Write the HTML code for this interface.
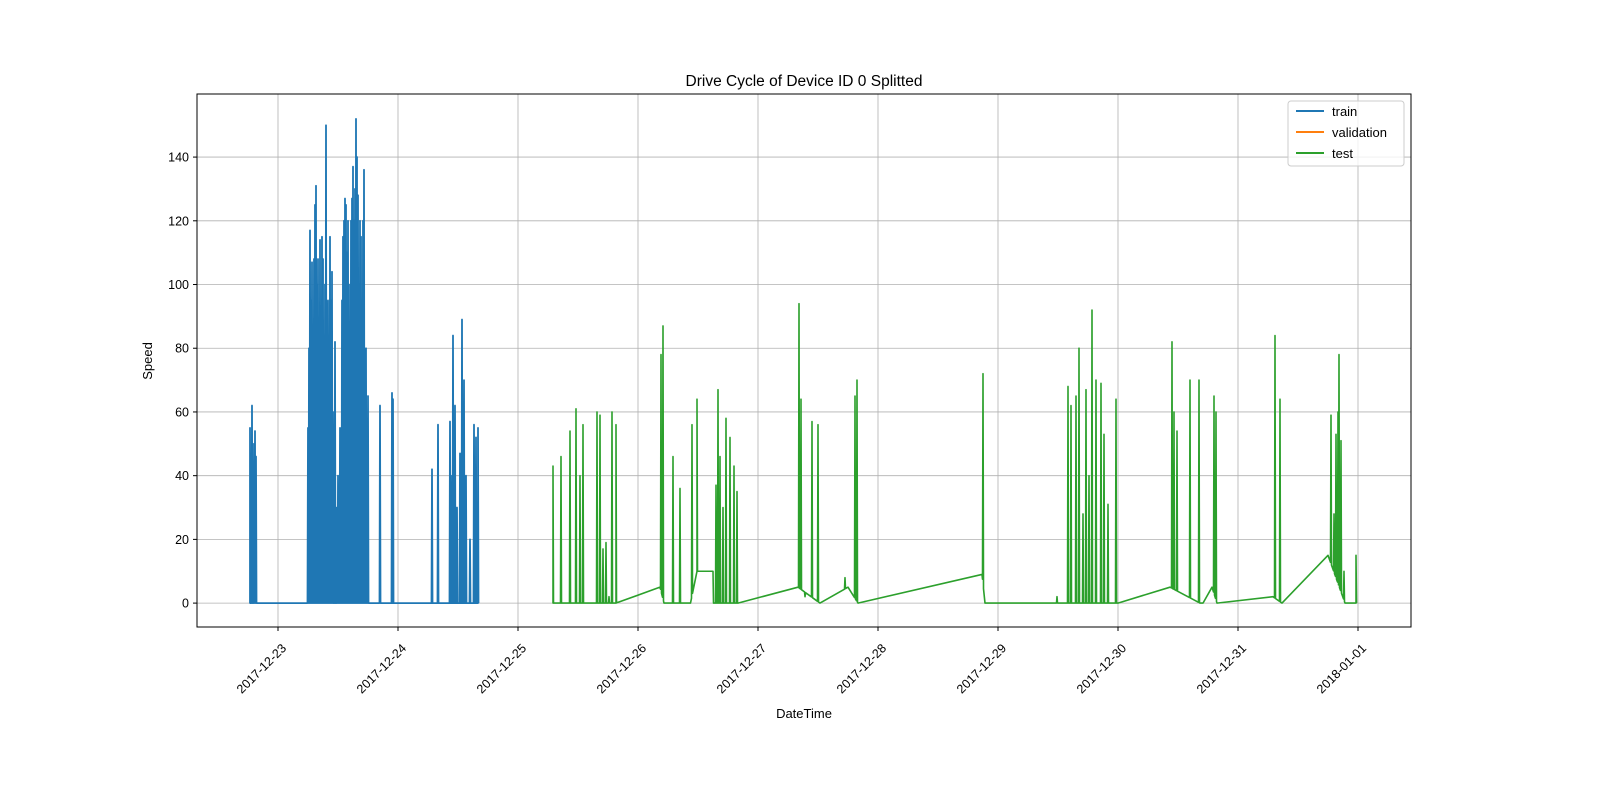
<!DOCTYPE html>
<html><head><meta charset="utf-8"><style>
html,body{margin:0;padding:0;width:1600px;height:800px;overflow:hidden;background:#fff;}
svg{display:block;font-family:"Liberation Sans","DejaVu Sans",sans-serif;}
</style></head><body>
<svg id="chart" width="1600" height="800" viewBox="0 0 1600 800">
<rect width="1600" height="800" fill="#fff"/>
<g id="grid"></g>
<g id="series"></g>
<rect x="197" y="94" width="1214" height="533" fill="none" stroke="#000" stroke-width="1"/>
<g id="axes"></g>
<text x="804" y="86" text-anchor="middle" font-size="15.5">Drive Cycle of Device ID 0 Splitted</text>
<text x="804" y="718" text-anchor="middle" font-size="13">DateTime</text>
<text transform="translate(152,361) rotate(-90)" text-anchor="middle" font-size="13">Speed</text>
<g>
<rect x="1288" y="101" width="116" height="65" rx="3" fill="#fff" fill-opacity="0.8" stroke="#ccc"/>
<g><line x1="1296" y1="111" x2="1324" y2="111" stroke="#1f77b4" stroke-width="2"/><text x="1332" y="116" font-size="13">train</text></g>
<g><line x1="1296" y1="132" x2="1324" y2="132" stroke="#ff7f0e" stroke-width="2"/><text x="1332" y="137" font-size="13">validation</text></g>
<g><line x1="1296" y1="153" x2="1324" y2="153" stroke="#2ca02c" stroke-width="2"/><text x="1332" y="158" font-size="13">test</text></g>
</g>
</svg>
<script>
// hours since 2017-12-23 00:00
const xTickLabels=["2017-12-23","2017-12-24","2017-12-25","2017-12-26","2017-12-27","2017-12-28","2017-12-29","2017-12-30","2017-12-31","2018-01-01"];
const yTicks=[0,20,40,60,80,100,120,140];
const trainSpikeH=[-5.6,-5.2,-4.8,-4.6,-4.4,6.0,6.2,6.4,6.6,6.8,7.0,7.2,7.4,7.6,7.8,8.0,8.2,8.4,8.6,8.8,9.0,9.2,9.4,9.6,9.8,10.0,10.2,10.4,10.6,10.8,11.0,11.4,11.8,12.0,12.2,12.4,12.6,12.8,13.0,13.2,13.4,13.6,13.8,14.0,14.2,14.4,14.6,14.8,15.0,15.2,15.4,15.6,15.8,16.0,16.2,16.4,16.6,16.8,17.0,17.2,17.4,17.6,17.8,18.0,20.4,22.8,23.0,30.8,32.0,34.4,34.8,35.0,35.4,35.8,36.4,36.8,37.2,37.6,38.4,39.2,39.6,40.0];
const trainSpikeV=[55,62,50,54,46,55,80,117,95,107,60,108,125,131,100,108,70,114,90,115,108,80,100,150,60,95,20,115,95,104,60,82,30,40,12,55,40,95,115,120,127,125,110,120,100,84,120,127,137,120,130,152,140,128,90,120,115,60,120,136,40,80,20,65,62,66,64,42,56,57,40,84,62,30,47,89,70,40,20,56,52,55];
const trainBaseH=[-5.6,40.0];
const trainBaseV=[0,0];
const testSpikeH=[55.0,56.6,58.4,59.6,60.4,61.0,63.8,64.4,65.0,65.6,66.2,66.8,67.6,76.6,77.0,79.0,80.4,82.8,83.8,87.6,88.0,88.4,89.0,89.6,90.4,91.2,91.8,104.2,104.6,105.4,106.8,108.0,113.4,115.4,115.8,141.0,155.8,158.0,158.6,159.6,160.2,161.0,161.6,162.2,162.8,163.6,164.6,165.2,166.0,167.6,178.8,179.2,179.8,182.4,184.2,187.2,187.6,199.4,200.4,210.6,211.2,211.6,212.0,212.2,212.6,213.2,215.6];
const testSpikeV=[43,46,54,61,40,56,60,59,17,19,2,60,56,78,87,46,36,56,64,37,67,46,30,58,52,43,35,94,64,2,57,56,8,65,70,72,2,68,62,65,80,28,67,40,92,70,69,53,31,64,82,60,54,70,70,65,60,84,64,59,28,53,60,78,51,10,15];
const testBaseH=[55,67.6,76.4,77.2,82.5,83.8,87.0,87.1,92.0,104.0,108.4,114.0,116.0,140.8,141.4,168.0,178.4,184.4,185.0,186.8,187.8,199.0,200.8,210.0,213.4,215.6];
const testBaseV=[0,0,5,0,0,10,10,0,0,5,0,5,0,9,0,0,5,0,0,5,0,2,0,15,0,0];

const X0=197,X1=1411,Y0=627,Y1=94;
const hMin=-16.2,hMax=226.6,vMin=-7.5,vMax=159.8;
const xs=h=>X0+(h-hMin)/(hMax-hMin)*(X1-X0);
const ys=v=>Y0-(v-vMin)/(vMax-vMin)*(Y0-Y1);
const NS="http://www.w3.org/2000/svg";
const grid=document.getElementById('grid'),axes=document.getElementById('axes'),ser=document.getElementById('series');
function mk(tag,attrs,parent){const e=document.createElementNS(NS,tag);for(const k in attrs)e.setAttribute(k,attrs[k]);parent.appendChild(e);return e;}
xTickLabels.forEach((lab,i)=>{
  const x=xs(i*24);
  const g=mk('line',{x1:x,x2:x,y1:Y1,y2:Y0,stroke:'#b0b0b0','stroke-width':0.8},grid);
  
  
  const t=mk('line',{x1:x,x2:x,y1:Y0,y2:Y0+4,stroke:'#000'},axes);
  
  
  const tx=mk('text',{transform:`translate(${x+9},${Y0+22}) rotate(-45)`,'text-anchor':'end','font-size':12.5},axes);
  tx.textContent=lab;
  
  
});
yTicks.forEach(v=>{
  const y=ys(v);
  const g=mk('line',{x1:X0,x2:X1,y1:y,y2:y,stroke:'#b0b0b0','stroke-width':0.8},grid);
  
  
  const t=mk('line',{x1:X0-4,x2:X0,y1:y,y2:y,stroke:'#000'},axes);
  
  
  const tx=mk('text',{x:X0-8,y:y+4.5,'text-anchor':'end','font-size':12.5},axes);
  tx.textContent=v;
  
  
});
function baseAt(bh,bv,t){
  if(t<=bh[0])return bv[0];
  for(let i=1;i<bh.length;i++){if(t<=bh[i]){const f=(t-bh[i-1])/((bh[i]-bh[i-1])||1);return bv[i-1]+f*(bv[i]-bv[i-1]);}}
  return bv[bv.length-1];
}
function build(sh,sv,bh,bv){
  const pts=[];
  bh.forEach((h,i)=>pts.push([h,bv[i]]));
  sh.forEach((h,i)=>{pts.push([h-0.1,baseAt(bh,bv,h-0.1)]);pts.push([h,sv[i]]);pts.push([h+0.1,baseAt(bh,bv,h+0.1)]);});
  pts.sort((a,b)=>a[0]-b[0]);
  return pts.map(p=>xs(p[0]).toFixed(2)+','+ys(p[1]).toFixed(2)).join(' ');
}
const tr=mk('polyline',{points:build(trainSpikeH,trainSpikeV,trainBaseH,trainBaseV),fill:'none',stroke:'#1f77b4','stroke-width':1.8,'stroke-linejoin':'round'},ser);


const te=mk('polyline',{points:build(testSpikeH,testSpikeV,testBaseH,testBaseV),fill:'none',stroke:'#2ca02c','stroke-width':1.6,'stroke-linejoin':'round'},ser);


</script>
</body></html>
